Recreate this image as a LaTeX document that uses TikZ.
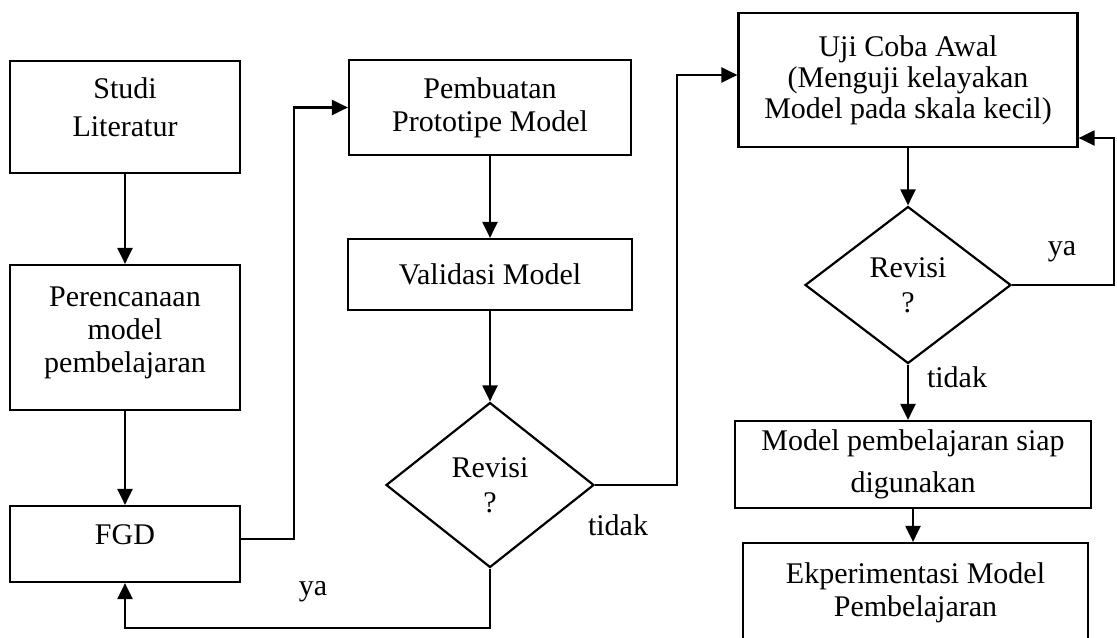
\documentclass[tikz,border=0pt]{standalone}
\usepackage{fontspec}
\setmainfont{Liberation Serif}
\usetikzlibrary{shapes.geometric,arrows.meta}

\begin{document}
\begin{tikzpicture}[x=0.5pt, y=-0.5pt, line width=1.1pt, >={Triangle[length=8pt,width=7.5pt]},
  every node/.style={font=\fontsize{15}{16.5}\selectfont, align=center},
  box/.style={rectangle, draw, inner sep=0pt},
  decision/.style={diamond, draw, inner sep=0pt}]
\path[use as bounding box, clip] (0,0) rectangle (1117,637);

\node (studi) at (125,117) [box, minimum width=115pt, minimum height=56pt, text depth=10pt] {Studi\\[2.5pt]Literatur};
\node (renc) at (125,337.5) [box, minimum width=115pt, minimum height=72.5pt, text depth=8pt] {Perencanaan\\model\\pembelajaran};
\node (fgd) at (125,544) [box, minimum width=115pt, minimum height=38pt, text depth=9pt] {FGD};
\node (buat) at (490,107.5) [box, minimum width=141pt, minimum height=47.5pt] {Pembuatan\\Prototipe Model};
\node (valid) at (490,274.5) [box, minimum width=142pt, minimum height=35.5pt] {Validasi Model};
\node (rev1) at (490,485) [decision, minimum width=104pt, minimum height=82.5pt] {Revisi\\[1pt]?};
\node (uji) at (908,80) [box, minimum width=169.5pt, minimum height=67pt] {Uji Coba Awal\\[-1pt](Menguji kelayakan\\[-1pt]Model pada skala kecil)};
\node (rev2) at (908,285) [decision, minimum width=103pt, minimum height=78.5pt] {Revisi\\[1pt]?};
\node (siap) at (913,464.5) [box, minimum width=178pt, minimum height=43.5pt] {Model pembelajaran siap\\[4.5pt]digunakan};
\node (eksp) at (915.5,593) [box, minimum width=172.5pt, minimum height=50pt] {Ekperimentasi Model\\Pembelajaran};

\node (ya1) at (313,592) {ya};
\node (tidak1) at (618,525) {tidak};
\node (ya2) at (1062,252) {ya};
\node (tidak2) at (957,377) {tidak};
\coordinate (balik) at (1114,138);

\draw[->] (studi) -- (renc);
\draw[->] (renc) -- (fgd);
\draw[->] ([yshift=2.5pt]fgd.east) -- ++(53,0) |- (buat);
\draw[->] (buat) -- (valid);
\draw[->] (valid) -- (rev1);
\draw[->] (rev1.east) -- ++(82,0) |- ([yshift=2.5pt]uji.west);
\draw[->] (rev1.south) -- ++(0,59) -| (fgd);
\draw[->] (uji) -- (rev2);
\draw[->] (rev2) -- (rev2 |- siap.north);
\draw[->] (siap) -- (siap |- eksp.north);
\draw[->] (rev2.east) -| (balik) -- (uji.east |- balik);
\end{tikzpicture}
\end{document}
